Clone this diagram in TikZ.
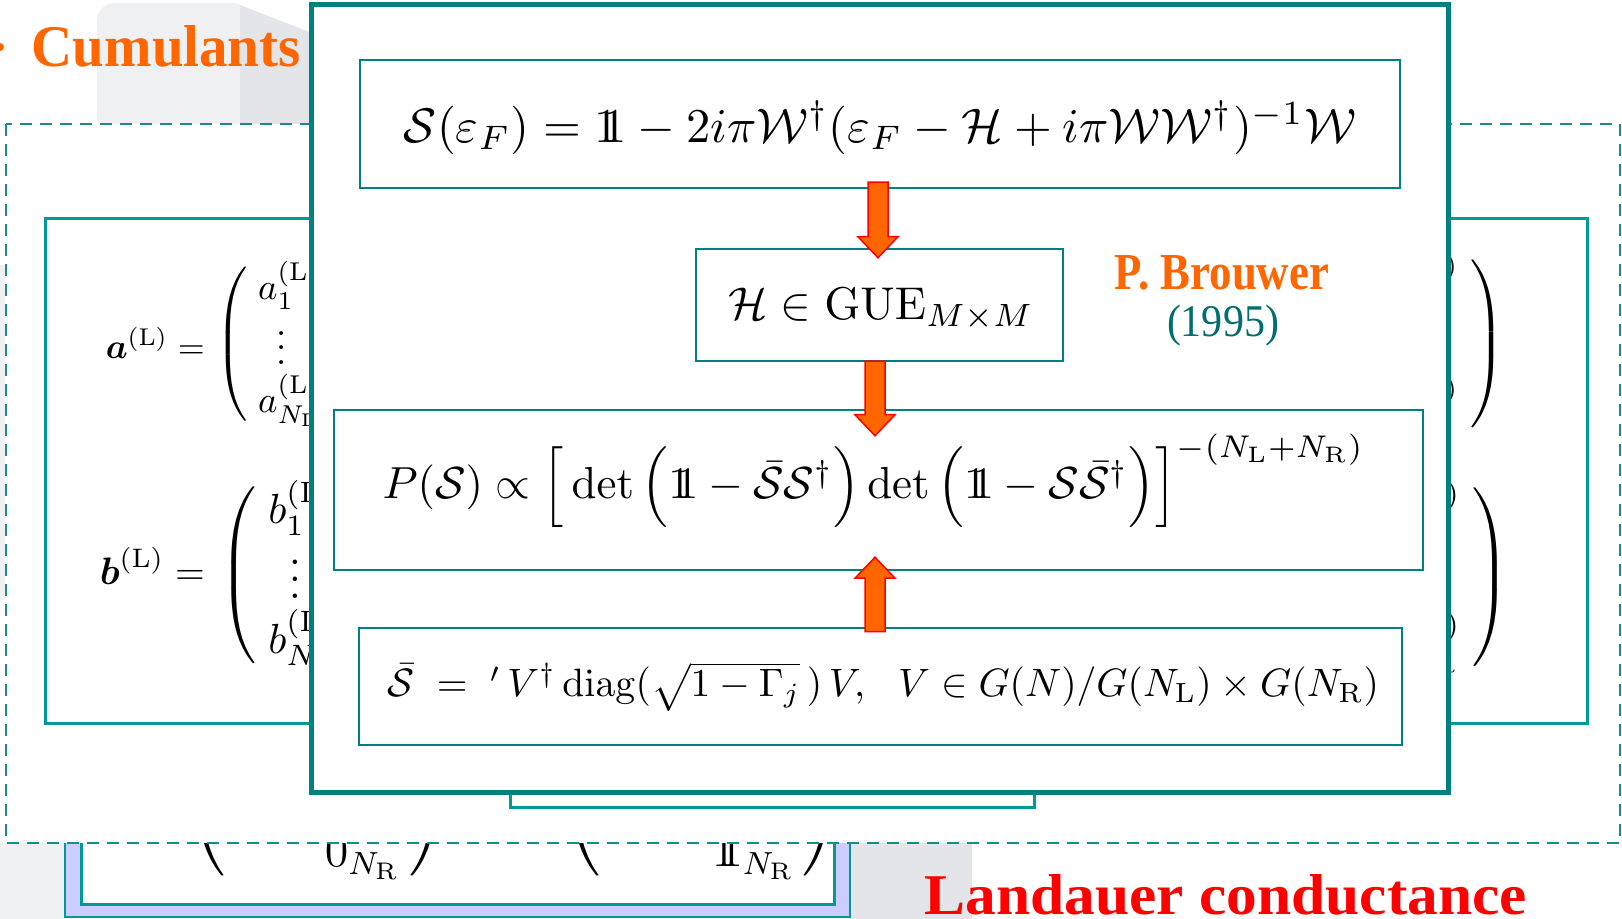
\documentclass[tikz,border=0pt]{standalone}
\usepackage{amsmath}
\usepackage[no-math]{fontspec}
\usepackage{graphicx}
\usetikzlibrary{calc}
\newfontfamily\titlefont{Liberation Serif}
\newlength\pu \setlength\pu{0.25pt}
\definecolor{tealA}{HTML}{008080}
\definecolor{tealB}{HTML}{009999}
\definecolor{tealC}{HTML}{1A8A8A}
\definecolor{tealT}{HTML}{006E6E}
\definecolor{orng}{HTML}{FF6600}
\definecolor{lav}{HTML}{CCCCFF}
\definecolor{gLight}{HTML}{EEF0F2}
\definecolor{gDark}{HTML}{E3E5E9}
\newcommand{\idop}{\mathrm{1\!\!1}}
\newcommand{\colmat}[2]{\renewcommand{\arraystretch}{0.85}\left(\;\begin{array}{@{}l@{}} #1\\ \hspace{5pt}\vdots \\ #2\end{array}\;\right)}
\tikzset{
  ibox/.style={draw=tealA, line width=2.5\pu, fill=white, inner sep=0pt},
  fatarr/.style={fill=orng, draw=red, line width=1.5\pu, line join=miter},
  eqfont/.style={font=\fontsize{10}{10}\selectfont, inner sep=0pt},
  bigparen/.style={font=\fontsize{12}{14}\selectfont, inner sep=0pt},
}
\begin{document}
\begin{tikzpicture}[x=0.25pt,y=-0.25pt]
\useasboundingbox (0,0) rectangle (1622,919);
\fill[white] (0,0) rectangle (1622,919);
% background decorations
\fill[gLight, rounded corners=18\pu] (97,3) rectangle (250,300);
\fill[gDark] (240,5) -- (312,33) -- (312,300) -- (240,300) -- cycle;
\fill[gLight] (0,265) rectangle (5,600);
\fill[gLight] (0,843) rectangle (65,919);
\fill[gDark] (850,843) rectangle (972,919);
\fill[orng] (0,47) circle (4);
% lavender box at the bottom
\draw[tealB, line width=2\pu, fill=lav] (65,760) rectangle (850,917);
\draw[tealB, line width=3\pu, fill=white] (81,760) rectangle (834,905);
\node[bigparen, anchor=south] (lp1) at (207,882) {$\left(\vcenter{\hrule height 60pt width 0pt}\right.$};
\node[bigparen, anchor=south] (rp1) at (428,882) {$\left.\vcenter{\hrule height 60pt width 0pt}\right)$};
\node[bigparen, anchor=base west] (z1) at (324,867) {$0_{N_{\mathrm{R}}}$};
\node[bigparen, anchor=south] (lp2) at (582,882) {$\left(\vcenter{\hrule height 60pt width 0pt}\right.$};
\node[bigparen, anchor=south] (rp2) at (821,882) {$\left.\vcenter{\hrule height 60pt width 0pt}\right)$};
\node[bigparen, anchor=base west] (o1) at (711,867) {$\idop_{N_{\mathrm{R}}}$};
% dashed box
\draw[tealC, line width=2.5\pu, dash pattern=on 12\pu off 8\pu, fill=white] (6,124) rectangle (1620,843);
% wide teal box
\draw[tealB, line width=3\pu] (45,219) rectangle (1587,724);
\node[inner sep=0pt, anchor=west] (alab) at (105,343)
  {\resizebox{99\pu}{!}{$\boldsymbol{a}^{(\mathrm{L})} =$}};
\node[eqfont, anchor=west] (amat) at (215,344)
  {\resizebox*{!}{166\pu}{$\colmat{a_1^{(\mathrm{L})}}{a_{N_{\mathrm{L}}}^{(\mathrm{L})}}$}};
\node[inner sep=0pt, anchor=west] (blab) at (99,566)
  {\resizebox{105\pu}{!}{$\boldsymbol{b}^{(\mathrm{L})} =$}};
\node[eqfont, anchor=west] (bmat) at (219,575)
  {\resizebox*{!}{190\pu}{$\colmat{b_1^{(\mathrm{L})}}{b_{N_{\mathrm{R}}}^{(\mathrm{L})}}$}};
\node[eqfont, anchor=east] (armat) at (1506,344)
  {\resizebox*{!}{180\pu}{$\colmat{a_1^{(\mathrm{R})}}{a_{N_{\mathrm{L}}}^{(\mathrm{R})}}$}};
\node[eqfont, anchor=east] (brmat) at (1511,577)
  {\resizebox*{!}{192\pu}{$\colmat{b_1^{(\mathrm{R})}}{b_{N_{\mathrm{R}}}^{(\mathrm{R})}}$}};
% box partly hidden under the main box
\draw[tealB, line width=3\pu, fill=white] (510,700) rectangle (1034,808);
% main box
\draw[tealA, line width=5\pu, fill=white] (311,5) rectangle (1448,793);
% inner boxes
\node[ibox, minimum width=1040\pu, minimum height=128\pu] (b1) at (880,124) {};
\node[inner sep=0pt] (e1) at ($(b1.center)+(0,4)$)
  {\resizebox{952\pu}{!}{$\mathcal{S}(\varepsilon_F) = \idop - 2i\pi\mathcal{W}^{\dagger}(\varepsilon_F-\mathcal{H}+i\pi\mathcal{W}\mathcal{W}^{\dagger})^{-1}\mathcal{W}$}};
\node[ibox, minimum width=367\pu, minimum height=112\pu] (b2) at (879.5,305) {};
\node[inner sep=0pt] (e2) at ($(b2.center)+(2,4)$)
  {\resizebox{305\pu}{!}{$\mathcal{H}\in\mathrm{GUE}_{M\times M}$}};
\node[ibox, minimum width=1089\pu, minimum height=160\pu] (b3) at (878.5,490) {};
\node[inner sep=0pt] (e3) at ($(b3.center)+(-5,-9)$)
  {\resizebox{982\pu}{!}{$P(\mathcal{S}) \propto \Big[\det\Big(\idop-\bar{\mathcal{S}}\mathcal{S}^{\dagger}\Big)\det\Big(\idop-\mathcal{S}\bar{\mathcal{S}}^{\dagger}\Big)\Big]^{-(N_{\mathrm{L}}+N_{\mathrm{R}})}$}};
\node[ibox, minimum width=1043\pu, minimum height=117\pu] (b4) at (880.5,686.5) {};
\node[inner sep=0pt] (e4) at ($(b4.center)+(3,0)$)
  {\resizebox{991\pu}{!}{$\bar{\mathcal{S}} \;=\; {}^{\prime}\,V^{\dagger}\,\mathrm{diag}(\sqrt{1-\Gamma_j}\,)\,V,\ \ V\in G(N)/G(N_{\mathrm{L}})\times G(N_{\mathrm{R}})$}};
% arrows
\coordinate (a1t) at ($(b1.south)+(-2,-7)$);
\coordinate (a1h) at ($(b2.north)+(-1.5,10)$);
\draw[fatarr] ($(a1t)+(-10,0)$) -- ($(a1t)+(10,0)$) -- ($(a1h)+(10,-21)$) -- ($(a1h)+(20,-21)$) -- (a1h) -- ($(a1h)+(-20,-21)$) -- ($(a1h)+(-10,-21)$) -- cycle;
\coordinate (a2t) at ($(b2.south)+(-4.5,-1)$);
\coordinate (a2h) at ($(b3.north)+(-3.5,27)$);
\draw[fatarr] ($(a2t)+(-10,0)$) -- ($(a2t)+(10,0)$) -- ($(a2h)+(10,-21)$) -- ($(a2h)+(20,-21)$) -- (a2h) -- ($(a2h)+(-20,-21)$) -- ($(a2h)+(-10,-21)$) -- cycle;
\coordinate (a3t) at ($(b4.north)+(-5.5,5)$);
\coordinate (a3h) at ($(b3.south)+(-3.5,-14)$);
\draw[fatarr] ($(a3t)+(-10,0)$) -- ($(a3t)+(10,0)$) -- ($(a3h)+(10,21)$) -- ($(a3h)+(20,21)$) -- (a3h) -- ($(a3h)+(-20,21)$) -- ($(a3h)+(-10,21)$) -- cycle;
% texts
\node[anchor=base west, inner sep=0pt, text=orng] (cum) at (31,67) {\resizebox{269\pu}{41\pu}{\titlefont\bfseries Cumulants}};
\node[anchor=base, inner sep=0pt, text=orng] (pb) at (1222,290) {\resizebox{214\pu}{34\pu}{\titlefont\bfseries P. Brouwer}};
\node[anchor=base, inner sep=0pt, text=tealT] (yr) at (1223,337) {\resizebox{112\pu}{31.5\pu}{\titlefont (1995)}};
\node[anchor=base west, inner sep=0pt, text=red] (land) at (924,915) {\resizebox{602\pu}{40\pu}{\titlefont\bfseries Landauer conductance}};
\end{tikzpicture}
\end{document}
